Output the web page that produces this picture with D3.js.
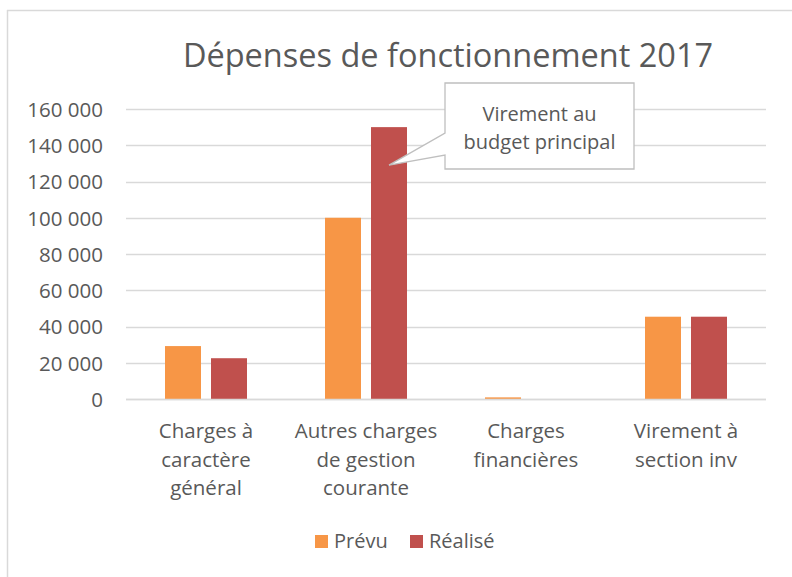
<!DOCTYPE html>
<html>
<head>
<meta charset="utf-8">
<script src="https://cdn.jsdelivr.net/npm/d3@7"></script>
<style>
  body { margin: 0; background: #fff; }
  text { font-family: "Open Sans", Lato, sans-serif; fill: #595959; }
</style>
</head>
<body>
<svg width="792" height="577"></svg>
<script>
'use strict';
// data
const categories = [
  ['Charges à', 'caractère', 'général'],
  ['Autres charges', 'de gestion', 'courante'],
  ['Charges', 'financières'],
  ['Virement à', 'section inv']
];
const series = ['Prévu', 'Réalisé'];
const prevu = [29200, 100000, 900, 45400];
const realise = [22500, 150000, 0, 45400];
const yTicks = [0, 20000, 40000, 60000, 80000, 100000, 120000, 140000, 160000];
const colors = ['#F79646', '#C0504D'];

const svg = d3.select('svg');
const width = +svg.attr('width');
const height = +svg.attr('height');

// chart frame (top and left edges only visible)
svg.append('line').attr('x1', 7).attr('x2', width).attr('y1', 10.5).attr('y2', 10.5)
  .attr('stroke', '#d9d9d9').attr('stroke-width', 1.5);
svg.append('line').attr('x1', 7.5).attr('x2', 7.5).attr('y1', 10).attr('y2', height)
  .attr('stroke', '#d9d9d9').attr('stroke-width', 1.5);

const margin = {left: 126, right: 26, top: 109, bottom: 178};

const y = d3.scaleLinear().domain([0, 160000]).range([height - margin.bottom, margin.top]);
const x0 = d3.scaleBand().domain(d3.range(categories.length))
  .range([margin.left, width - margin.right]);
const x1 = d3.scaleBand().domain(series).range([39, 121]).paddingInner(10 / 46);

// gridlines
svg.append('g').selectAll('line').data(yTicks).join('line')
  .attr('x1', margin.left).attr('x2', width - margin.right)
  .attr('y1', d => Math.round(y(d)) + 0.5).attr('y2', d => Math.round(y(d)) + 0.5)
  .attr('stroke', '#d9d9d9').attr('stroke-width', 1.3);

// y axis labels
const fmt = d => d3.format(',')(d).replace(/,/g, ' ');
const yAxis = svg.append('g').attr('transform', `translate(${margin.left - 23},0)`)
  .call(d3.axisLeft(y).tickValues(yTicks).tickFormat(fmt).tickSize(0).tickPadding(0));
yAxis.select('.domain').remove();
yAxis.selectAll('text').style('font-size', '20.5px').attr('fill', '#595959').attr('dy', '0.36em')
  .style('font-family', '"Open Sans", sans-serif');

// bars
const rows = categories.map((c, i) => [prevu[i], realise[i]]);
const groups = svg.append('g').selectAll('g').data(rows).join('g')
  .attr('transform', (d, i) => `translate(${x0(i)},0)`);
groups.selectAll('rect').data(d => d.map((v, j) => ({v, s: series[j], j}))).join('rect')
  .attr('x', d => x1(d.s))
  .attr('width', x1.bandwidth())
  .attr('y', d => y(d.v))
  .attr('height', d => y(0) - y(d.v))
  .attr('fill', d => colors[d.j]);

// x axis line on top of bars
svg.append('line').attr('x1', margin.left).attr('x2', width - margin.right)
  .attr('y1', Math.round(y(0)) + 0.5).attr('y2', Math.round(y(0)) + 0.5)
  .attr('stroke', '#d9d9d9').attr('stroke-width', 1.5);

// category labels
const xl = svg.append('g').selectAll('text').data(categories).join('text')
  .attr('x', (d, i) => x0(i) + x0.bandwidth() / 2)
  .attr('y', 438)
  .attr('text-anchor', 'middle')
  .style('font-size', '20.5px');
xl.selectAll('tspan').data(d => d).join('tspan')
  .attr('x', function () { return this.parentNode.getAttribute('x'); })
  .attr('dy', (d, i) => i === 0 ? 0 : 28.5)
  .text(d => d);

// title
svg.append('text').attr('x', 448).attr('y', 67).attr('text-anchor', 'middle')
  .style('font-size', '32.5px').text('Dépenses de fonctionnement 2017');

// callout pointing at the "Réalisé" bar of "Autres charges"
const tipX = x0(1) + x1('Réalisé') + x1.bandwidth() / 2;
const tipY = y(129000);
const bx = 445, by = 83, bw = 189, bh = 86;
svg.append('path')
  .attr('d', `M${bx},${by} H${bx + bw} V${by + bh} H${bx} V${by + 72} L${tipX},${tipY} L${bx},${by + 50} Z`)
  .attr('fill', '#fff').attr('stroke', '#bfbfbf').attr('stroke-width', 1.3);
svg.append('text').attr('x', bx + bw / 2).attr('y', 121).attr('text-anchor', 'middle')
  .style('font-size', '20px').text('Virement au');
svg.append('text').attr('x', bx + bw / 2).attr('y', 149).attr('text-anchor', 'middle')
  .style('font-size', '20px').text('budget principal');

// legend
const legendX = [315, 410];
const leg = svg.append('g').selectAll('g').data(series).join('g')
  .attr('transform', (d, i) => `translate(${legendX[i]},535)`);
leg.append('rect').attr('width', 13).attr('height', 13).attr('fill', (d, i) => colors[i]);
leg.append('text').attr('x', 19).attr('y', 13).style('font-size', '20px').text(d => d);
</script>
</body>
</html>
